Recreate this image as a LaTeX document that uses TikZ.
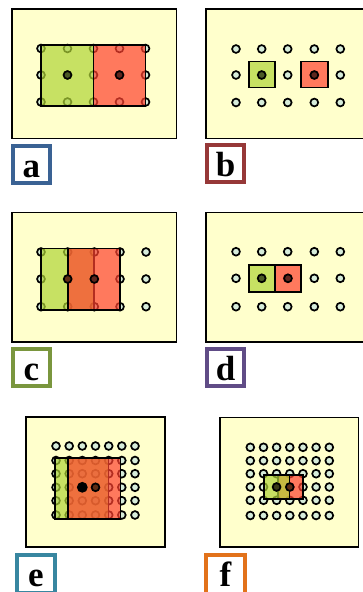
\documentclass[tikz,border=0pt]{standalone}
\usepackage{fontspec}
\setmainfont{Liberation Serif}
\definecolor{bgy}{RGB}{255,255,204}
\definecolor{mint}{RGB}{214,236,218}
\definecolor{grnb}{RGB}{176,213,55}
\definecolor{redb}{RGB}{255,65,47}
\definecolor{dkg}{RGB}{75,90,38}
\definecolor{dkr}{RGB}{95,38,30}
\definecolor{dkb}{RGB}{95,45,20}
\definecolor{dko}{RGB}{55,58,22}
\definecolor{la}{RGB}{58,98,148}
\definecolor{lb}{RGB}{150,56,56}
\definecolor{lc}{RGB}{122,150,62}
\definecolor{ld}{RGB}{96,76,134}
\definecolor{le}{RGB}{56,134,160}
\definecolor{lf}{RGB}{226,114,26}
\tikzset{
  panel/.style={draw=black, line width=1.8pt, fill=bgy},
  pt/.style={circle, draw=black, fill=mint, line width=1.7pt, minimum size=7.8pt, inner sep=0pt},
  dotmark/.style={circle, draw=black, line width=1.7pt, minimum size=7.8pt, inner sep=0pt},
  gbox/.style={draw=black, line width=1.8pt, fill=grnb, fill opacity=0.7},
  rbox/.style={draw=black, line width=1.8pt, fill=redb, fill opacity=0.7},
  lbox/.style={draw=#1, line width=4pt, fill=white},
  lettr/.style={inner sep=0pt, anchor=base, font=\bfseries\fontsize{35}{35}\selectfont}
}
\begin{document}
\begin{tikzpicture}[x=1pt,y=-1pt]
\useasboundingbox (0,0) rectangle (363,592);

% ---------- panel a ----------
\draw[panel] (11.8,8.8) rectangle (176.5,138.5);
\foreach \x [count=\i] in {41,67.5,93.5,119.5,145.5}
  \foreach \y [count=\j] in {48.5,75,102}
    \node[pt] (a\i\j) at (\x,\y) {};
\draw[gbox] (41,45) rectangle (93.5,106);
\draw[rbox] (93.5,45) rectangle (145.5,106);
\node[dotmark, fill=dkg] (ag) at (67.5,75) {};
\node[dotmark, fill=dkr] (ar) at (119.5,75) {};
\draw[lbox=la] (13,146) rectangle (50,183);
\node[lettr] (ta) at (31.5,177) {a};

% ---------- panel b ----------
\draw[panel] (205.8,8.8) rectangle (366,138.5);
\foreach \x [count=\i] in {236,261.7,287.7,314.3,340.3}
  \foreach \y [count=\j] in {49,75,102.5}
    \node[pt] (b\i\j) at (\x,\y) {};
\draw[gbox] (248.7,61.5) rectangle (275.3,87.5);
\draw[rbox] (301,61.5) rectangle (327.7,87.5);
\node[dotmark, fill=dkg] (bg) at (261.7,75) {};
\node[dotmark, fill=dkr] (br) at (314.3,75) {};
\draw[lbox=lb] (207,145) rectangle (244,182);
\node[lettr] (tb) at (225.5,176.5) {b};

% ---------- panel c ----------
\draw[panel] (11.8,212.5) rectangle (176.5,342.2);
\foreach \x [count=\i] in {41,67.7,94.3,120,146}
  \foreach \y [count=\j] in {252,279,306.7}
    \node[pt] (c\i\j) at (\x,\y) {};
\draw[gbox] (41,248.5) rectangle (94.3,310);
\draw[rbox] (67.7,248.5) rectangle (120,310);
\node[dotmark, fill=dkb] (cg) at (67.7,279) {};
\node[dotmark, fill=dkr] (cr) at (94.3,279) {};
\draw[lbox=lc] (13,348.7) rectangle (50,385.7);
\node[lettr] (tc) at (31.5,380.5) {c};

% ---------- panel d ----------
\draw[panel] (205.8,212.5) rectangle (366,342.2);
\foreach \x [count=\i] in {236,261.7,287.7,314.3,340.3}
  \foreach \y [count=\j] in {251.7,278.3,306.7}
    \node[pt] (d\i\j) at (\x,\y) {};
\draw[gbox] (248.7,265) rectangle (275.3,291.7);
\draw[rbox] (275.3,265) rectangle (301,291.7);
\node[dotmark, fill=dkg] (dg) at (261.7,278.3) {};
\node[dotmark, fill=dkr] (dr) at (288,278.3) {};
\draw[lbox=ld] (207,349) rectangle (244,386);
\node[lettr] (td) at (225.5,380.5) {d};

% ---------- panel e ----------
\draw[panel] (25.8,416.8) rectangle (165,547);
\foreach \x [count=\i] in {56,69.2,82.3,95.5,108.7,121.8,135}
  \foreach \y [count=\j] in {446,460.5,473.7,487.3,500.7,515}
    \node[pt] (e\i\j) at (\x,\y) {};
\draw[gbox] (55,458.3) rectangle (108.5,519.3);
\draw[rbox] (68.3,458.3) rectangle (120.5,519.3);
\node[dotmark, fill=black, minimum size=9pt] (eg) at (82.3,487.3) {};
\node[dotmark, fill=dkb] (er) at (95.5,487.3) {};
\draw[lbox=le] (17,554.7) rectangle (55,592.7);
\node[lettr] (te) at (36,586) {e};

% ---------- panel f ----------
\draw[panel] (220,417.5) rectangle (358.5,547);
\foreach \x [count=\i] in {250.3,263.5,276.6,289.8,303,316.1,329.3}
  \foreach \y [count=\j] in {447.3,460.7,473.7,487,500.3,515.5}
    \node[pt] (f\i\j) at (\x,\y) {};
\draw[rbox] (278.3,475) rectangle (303.3,499);
\draw[gbox] (264,475) rectangle (289.5,499);
\node[dotmark, fill=dko] (fg) at (276.6,487) {};
\node[dotmark, fill=dkb] (fr) at (289.8,487) {};
\draw[lbox=lf] (206.3,555.3) rectangle (244.7,593.5);
\node[lettr] (tf) at (225.5,586) {f};
\end{tikzpicture}
\end{document}
